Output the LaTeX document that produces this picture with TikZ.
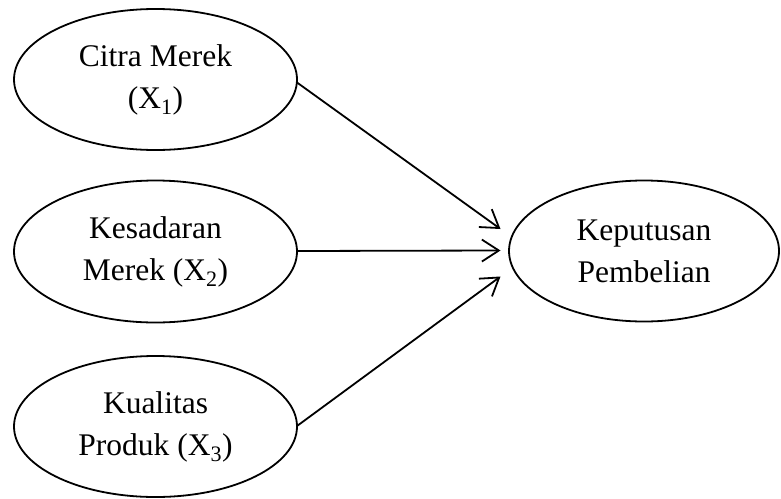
\documentclass[tikz,border=0pt]{standalone}
\usepackage{fontspec}
\setmainfont{Liberation Serif}
\usetikzlibrary{shapes.geometric,arrows.meta}
\begin{document}
\begin{tikzpicture}[x=1pt,y=-1pt,
  var/.style={draw,ellipse,line width=1.8pt,inner sep=0pt,outer sep=0pt,
    align=center,font=\fontsize{31.5}{42}\selectfont},
  link/.style={line width=1.8pt,-{Straight Barb[length=17pt,width=22pt,line width=1.8pt]}}]
\useasboundingbox (0,0) rectangle (781,498);
\node[var,minimum width=283pt,minimum height=141pt] (x1) at (155.5,79.5) {Citra Merek\\(X\textsubscript{1})};
\node[var,minimum width=283pt,minimum height=142pt] (x2) at (155.5,251.5) {Kesadaran\\Merek (X\textsubscript{2})};
\node[var,minimum width=283pt,minimum height=141pt] (x3) at (155.5,426.5) {Kualitas\\Produk (X\textsubscript{3})};
\node[var,minimum width=270pt,minimum height=141pt] (y) at (644,251) {Keputusan\\Pembelian};
\coordinate (t1) at (500.5,229);
\coordinate (t2) at (500.5,250.5);
\coordinate (t3) at (500.5,276.5);
\draw[link] (x1.east |- 0,82.5) -- (t1);
\draw[link] (x2.east |- 0,251) -- (t2);
\draw[link] (x3.east |- 0,426) -- (t3);
\end{tikzpicture}
\end{document}
